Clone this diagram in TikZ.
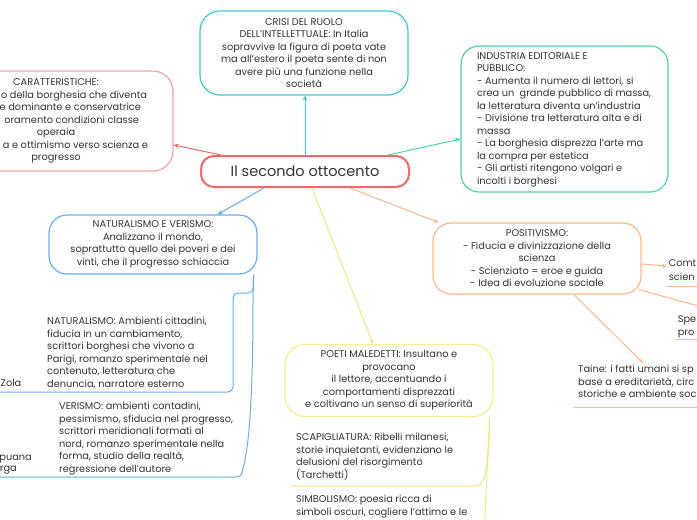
\documentclass[tikz,border=0pt]{standalone}
\usepackage{fontspec}
\setmainfont{Poppins}
\usetikzlibrary{arrows.meta,calc}
\definecolor{cred}{HTML}{F06868}
\definecolor{cpink}{HTML}{F7A3A3}
\definecolor{cteal}{HTML}{3CC8D6}
\definecolor{cgreen}{HTML}{4CD6A0}
\definecolor{cblue}{HTML}{64AEF2}
\definecolor{cyellow}{HTML}{F8EE8C}
\definecolor{corange}{HTML}{FFB88A}
\definecolor{ctext}{HTML}{333333}
\newcommand{\mmfont}{\fontsize{9.8}{12.5}\selectfont}
\tikzset{
  mmbox/.style={draw, fill=white, line width=1.2pt, text=ctext, align=center, inner sep=0pt, font=\mmfont},
  mmtext/.style={text=ctext, align=left, inner sep=0pt, anchor=north west, font=\mmfont},
  frag/.style={text=ctext, inner sep=0pt, font=\mmfont},
  conn/.style={line width=1pt, -{Stealth[length=5pt,width=4.5pt]}},
  subline/.style={line width=1pt},
}
\begin{document}
\begin{tikzpicture}[x=1pt,y=-1pt]
\useasboundingbox (0,0) rectangle (697,520);
\clip (0,0) rectangle (697,520);
\fill[white] (0,0) rectangle (697,520);

% central
\node[mmbox, draw=cred, line width=2pt, minimum width=208pt, minimum height=31pt, rounded corners=13pt, font=\fontsize{14.5}{18}\selectfont] (c) at (305,171.5) {Il secondo ottocento};

% main topics
\node[mmbox, draw=cteal, minimum width=208pt, minimum height=84pt, rounded corners=20pt] (crisi) at (304,53)
 {CRISI DEL RUOLO\\DELL’INTELLETTUALE: In Italia\\sopravvive la figura di poeta vate\\ma all’estero il poeta sente di non\\avere più una funzione nella\\società};

\node[mmbox, draw=cpink, minimum width=234pt, minimum height=100pt, rounded corners=20pt] (car) at (56,121)
 {CARATTERISTICHE:\\\makebox[182pt][r]{o della borghesia che diventa}\\\makebox[170pt][r]{e dominante e conservatrice}\\\makebox[166pt][r]{oramento condizioni classe}\\operaia\\\makebox[184pt][r]{a e ottimismo verso scienza e}\\progresso};

\node[mmbox, draw=cgreen, minimum width=207pt, minimum height=146pt, rounded corners=18pt] (ind) at (564.5,119)
 {\makebox[175pt][l]{\begin{tabular}{@{}l@{}}INDUSTRIA EDITORIALE E\\PUBBLICO:\\- Aumenta il numero di lettori, si\\crea un\ \ grande pubblico di massa,\\la letteratura diventa un’industria\\- Divisione tra letteratura alta e di\\massa\\- La borghesia disprezza l’arte ma\\la compra per estetica\\- Gli artisti ritengono volgari e\\incolti i borghesi\end{tabular}}};

\node[mmbox, draw=cblue, minimum width=208pt, minimum height=59pt, rounded corners=18pt] (nat) at (153,244.5)
 {NATURALISMO E VERISMO:\\Analizzano il mondo,\\soprattutto quello dei poveri e dei\\vinti, che il progresso schiaccia};

\node[mmbox, draw=cyellow, minimum width=208pt, minimum height=72pt, rounded corners=20pt] (poeti) at (389,380.5)
 {POETI MALEDETTI: Insultano e\\provocano\\il lettore, accentuando i\\comportamenti disprezzati\\e coltivano un senso di superiorità};

\node[mmbox, draw=corange, minimum width=208pt, minimum height=71pt, rounded corners=18pt] (pos) at (537,258.5)
 {POSITIVISMO:\\- Fiducia e divinizzazione della\\scienza\\- Scienziato = eroe e guida\\- Idea di evoluzione sociale};

% main connectors
\draw[conn, cteal] (c.north) -- (c.north |- crisi.south);
\draw[conn, cred] ([xshift=21pt]c.north west) -- ([yshift=-24pt]car.east);
\draw[conn, cgreen] ([xshift=-22pt]c.north east) -- ([yshift=-20pt]ind.west);
\draw[conn, cblue] ([xshift=64pt]c.south west) -- ([xshift=-40pt]nat.north east);
\draw[conn, cyellow!90!orange] ([xshift=7pt]c.south) -- ([xshift=-16pt]poeti.north);
\draw[conn, corange] ([xshift=45pt]c.south) -- ([xshift=6pt]pos.north west);

% naturalismo / verismo children
\node[mmtext] (natur) at (47,317) {NATURALISMO: Ambienti cittadini,\\fiducia in un cambiamento,\\scrittori borghesi che vivono a\\Parigi, romanzo sperimentale nel\\contenuto, letteratura che\\denuncia, narratore esterno};
\node[mmtext] (veri) at (59,402) {VERISMO: ambienti contadini,\\pessimismo, sfiducia nel progresso,\\scrittori meridionali formati al\\nord, romanzo sperimentale nella\\forma, studio della realtà,\\regressione dell’autore};
\node[frag, anchor=base west] (zola) at (0.5,386.5) {Zola};
\node[frag, anchor=base east] (capu) at (32,460.5) {puana};
\node[frag, anchor=base east] (verg) at (17,471.5) {rga};

\coordinate (natp) at ([xshift=-4pt]nat.south east);
\coordinate (natc) at (233,392);
\coordinate (verc) at (242,477);
\draw[subline, cblue, rounded corners=5pt] (natp) -- (253,293) -- (natc |- 0,293) -- (natc) -- (-5,392);
\draw[subline, cblue] (natp) -- (253,300) .. controls (253,400) and (249,450) .. (242,472) .. controls (241,476) .. (236,477) -- (-5,477);

% poeti children
\node[mmtext] (scap) at (296,433) {SCAPIGLIATURA: Ribelli milanesi,\\storie inquietanti, evidenziano le\\delusioni del risorgimento\\(Tarchetti)};
\node[mmtext] (simb) at (296,495) {SIMBOLISMO: poesia ricca di\\simboli oscuri, cogliere l’attimo e le};
\coordinate (poep) at ([xshift=-4pt]poeti.south east);
\draw[subline, cyellow!90!orange] (poep) .. controls (489,455) and (487,476) .. (481,483) .. controls (479,486) .. (475,486) -- (291,486);
\draw[subline, cyellow!90!orange] (poep) -- (484.5,525);

% positivismo children
\node[frag, anchor=base east] (comt) at (696.5,266.5) {Comt};
\node[frag, anchor=base west] (scie) at (comt.base west |- 0,280.5) {scien};
\coordinate (comtend) at (667,266);
\draw[conn, corange] ([yshift=-5.5pt]pos.east) -- (comtend);
\draw[subline, corange] (667,286) -- (700,286);

\node[frag, anchor=base east] (spe) at (696.5,322.5) {Spe};
\node[frag, anchor=base west] (pro) at (spe.base west |- 0,335.5) {pro};
\coordinate (speend) at (735,316);
\draw[conn, corange] ([xshift=-3pt,yshift=5pt]pos.south east) -- (speend);
\draw[subline, corange] (676,339) -- (700,339);

\node[mmtext] (taine) at (578,365) {Taine: i fatti umani si sp\\base a ereditarietà, circ\\storiche e ambiente soc};
\coordinate (taineend) at (643,363);
\draw[conn, corange] ([xshift=37pt]pos.south) -- (taineend);
\draw[subline, corange] (574,407) -- (700,407);
\end{tikzpicture}
\end{document}
